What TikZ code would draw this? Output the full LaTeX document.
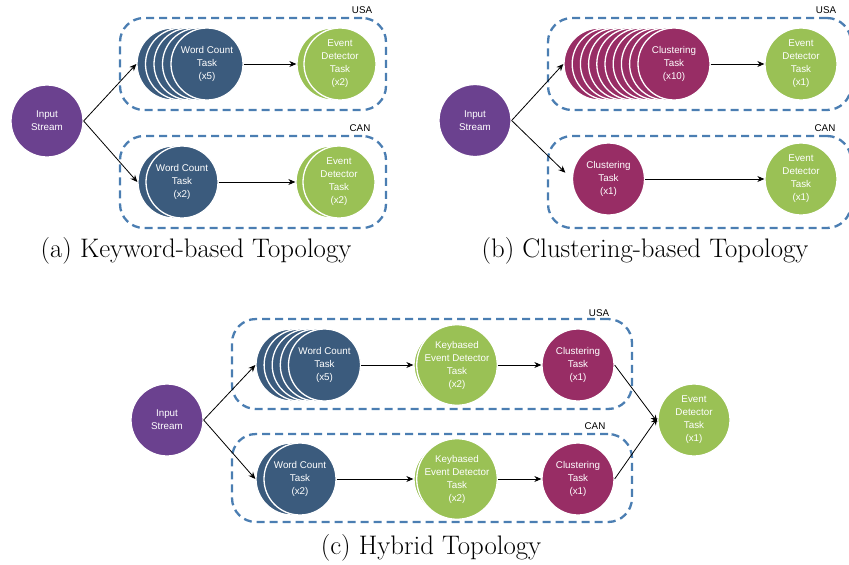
\documentclass[tikz,border=0pt]{standalone}
\usepackage{fontspec}
\newfontfamily\nodefont{Liberation Sans}
\usetikzlibrary{arrows.meta}
\definecolor{cblue}{HTML}{3B5B7D}
\definecolor{cgreen}{HTML}{9AC155}
\definecolor{cpurple}{HTML}{6B418F}
\definecolor{cmag}{HTML}{982D65}
\definecolor{cdash}{HTML}{4B7EB2}
\tikzset{
  task/.style={circle, minimum size=72pt, inner sep=0pt, draw=white, line width=1.3pt,
    text=white, font=\nodefont\fontsize{9.8}{13}\selectfont, align=center},
  bluet/.style={task, fill=cblue},
  greent/.style={task, fill=cgreen},
  purpt/.style={task, fill=cpurple},
  magt/.style={task, fill=cmag},
  grp/.style={rectangle, draw=cdash, dash pattern=on 8pt off 5pt, line width=2.3pt,
    rounded corners=24pt, inner sep=0pt},
  lbl/.style={font=\nodefont\fontsize{9.8}{12}\selectfont, text=black},
  arr/.style={-{Stealth[length=7pt,width=6pt]}, line width=0.8pt, black},
  captxt/.style={font=\fontsize{26.8}{32}\selectfont, text=black}
}
\begin{document}
\begin{tikzpicture}[x=1pt,y=-1pt]
\useasboundingbox (0,0) rectangle (849,565);

% ---------------- (a) ----------------
\node[grp, minimum width=266pt, minimum height=92pt] (usaA) at (253,64) {};
\node[grp, minimum width=266pt, minimum height=92pt] (canA) at (253,182) {};
\node[lbl] (usaAl) at (362,10) {USA};
\node[lbl] (canAl) at (360,128) {CAN};
\node[purpt] (inA) at (47,121) {Input\\Stream};
\foreach \i in {1,...,4} \node[bluet] (wcAb\i) at ({173+8.5*(\i-1)},64) {};
\node[bluet] (wcA) at (207,64) {Word Count\\Task\\(x5)};
\node[greent] (edAb) at (333,64) {};
\node[greent] (edA) at (340,64) {Event\\Detector\\Task\\(x2)};
\node[bluet] (wc2Ab) at (174,182) {};
\node[bluet] (wc2A) at (182,182) {Word Count\\Task\\(x2)};
\node[greent] (ed2Ab) at (332,182) {};
\node[greent] (ed2A) at (339,182) {Event\\Detector\\Task\\(x2)};
\draw[arr] (inA.east) -- (wcAb1.west);
\draw[arr] (inA.east) -- (wc2Ab.west);
\draw[arr] (wcA.east) -- (edAb.west);
\draw[arr] (wc2A.east) -- (ed2Ab.west);
\node[captxt] (capA) at (196,251) {(a) Keyword-based Topology};

% ---------------- (b) ----------------
\node[grp, minimum width=303pt, minimum height=92pt] (usaB) at (699.5,64) {};
\node[grp, minimum width=303pt, minimum height=92pt] (canB) at (699.5,182) {};
\node[lbl] (usaBl) at (826,10) {USA};
\node[lbl] (canBl) at (825,128) {CAN};
\node[purpt] (inB) at (475,120.5) {Input\\Stream};
\foreach \i in {1,...,9} \node[magt] (clBb\i) at ({600+8.2*(\i-1)},64) {};
\node[magt] (clB) at (674,64) {Clustering\\Task\\(x10)};
\node[greent] (edB) at (801,64) {Event\\Detector\\Task\\(x1)};
\node[magt] (cl2B) at (608.5,179) {Clustering\\Task\\(x1)};
\node[greent] (ed2B) at (801,179) {Event\\Detector\\Task\\(x1)};
\draw[arr] (inB.east) -- (clBb1.west);
\draw[arr, shorten >=9pt] (inB.east) -- (cl2B.west);
\draw[arr] (clB.east) -- (edB.west);
\draw[arr] (cl2B.east) -- (ed2B.west);
\node[captxt] (capB) at (645,251) {(b) Clustering-based Topology};

% ---------------- (c) ----------------
\node[grp, minimum width=400pt, minimum height=90pt] (usaC) at (432,364) {};
\node[grp, minimum width=400pt, minimum height=88pt] (canC) at (432,478) {};
\node[lbl] (usaCl) at (599,313) {USA};
\node[lbl] (canCl) at (595,426) {CAN};
\node[purpt] (inC) at (167,420) {Input\\Stream};
\foreach \i in {1,...,4} \node[bluet] (wcCb\i) at ({292+8.1*(\i-1)},365) {};
\node[bluet] (wcC) at (324.5,365) {Word Count\\Task\\(x5)};
\node[greent] (kedCb) at (450,365) {};
\node[greent] (kedC) at (457,365) {Keybased\\Event Detector\\Task\\(x2)};
\node[magt] (clC) at (578,365) {Clustering\\Task\\(x1)};
\node[bluet] (wc2Cb) at (292,479) {};
\node[bluet] (wc2C) at (300,479) {Word Count\\Task\\(x2)};
\node[greent] (ked2Cb) at (450,479) {};
\node[greent] (ked2C) at (457,479) {Keybased\\Event Detector\\Task\\(x2)};
\node[magt] (cl2C) at (578,479) {Clustering\\Task\\(x1)};
\node[greent] (edC) at (694,420) {Event\\Detector\\Task\\(x1)};
\draw[arr] (inC.east) -- (wcCb1.west);
\draw[arr] (inC.east) -- (wc2Cb.west);
\draw[arr] (wcC.east) -- (kedCb.west);
\draw[arr] (wc2C.east) -- (ked2Cb.west);
\draw[arr] (kedC.east) -- (clC.west);
\draw[arr] (ked2C.east) -- (cl2C.west);
\draw[arr] (clC.east) -- ([yshift=-2pt]edC.west);
\draw[arr] (cl2C.east) -- ([yshift=2pt]edC.west);
\node[captxt] (capC) at (431,548) {(c) Hybrid Topology};
\end{tikzpicture}
\end{document}
